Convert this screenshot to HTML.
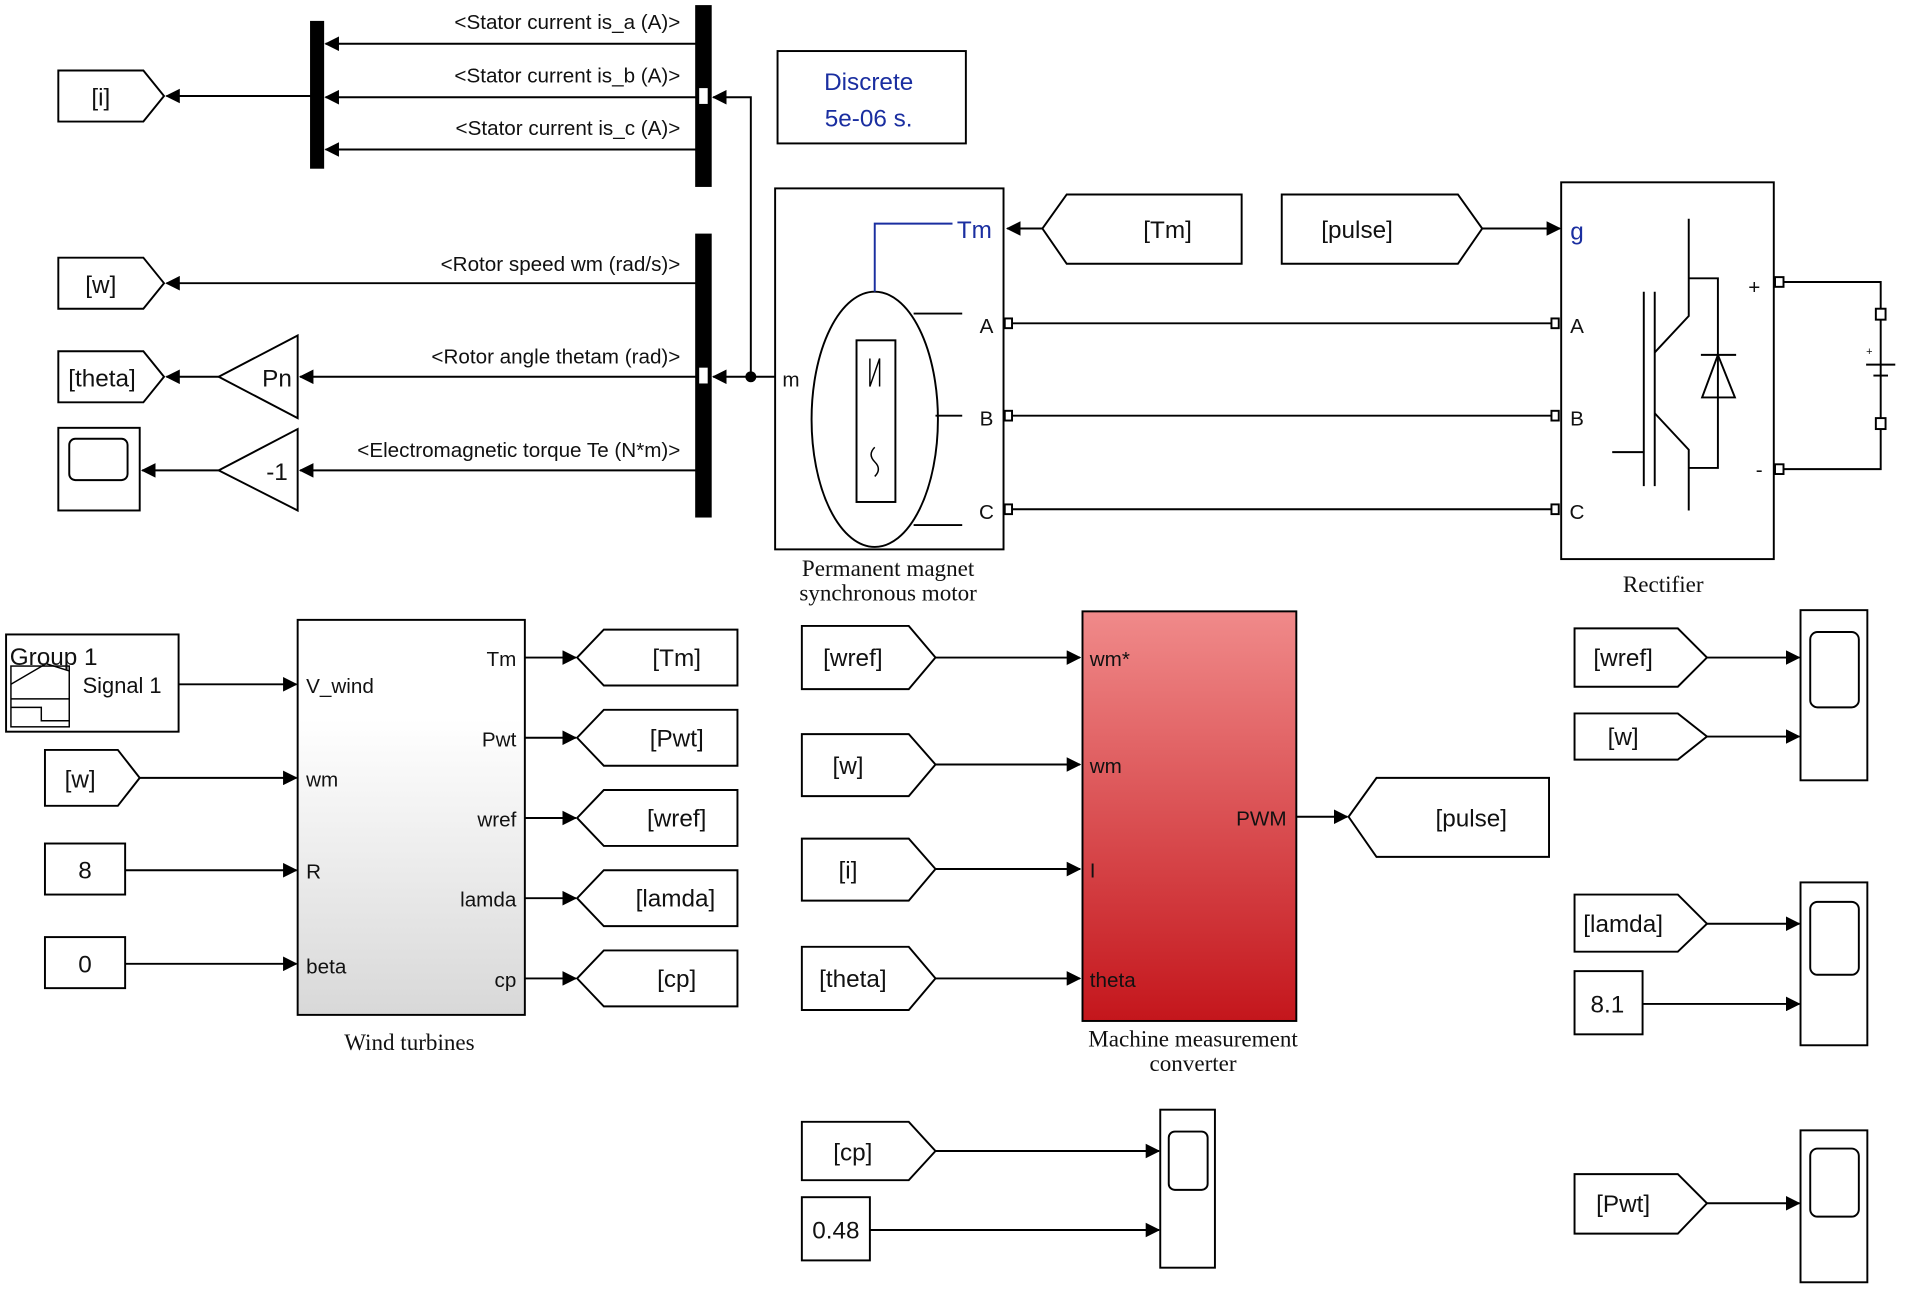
<!DOCTYPE html>
<html><head><meta charset="utf-8"><style>
html,body{margin:0;padding:0;background:#fff;}
svg{display:block;}
text{font-family:"Liberation Sans",sans-serif;fill:#111;}
.s{font-family:"Liberation Serif",serif;font-size:19px;}
</style></head><body>
<svg width="1905" height="1292" viewBox="0 0 1568 1063" preserveAspectRatio="none" xmlns="http://www.w3.org/2000/svg">
<defs>
<marker id="a" markerWidth="12" markerHeight="12" refX="11" refY="6" orient="auto" markerUnits="userSpaceOnUse"><path d="M0,0 L12,6 L0,12 Z" fill="#000"/></marker>
<linearGradient id="gw" x1="0" y1="0" x2="0" y2="1"><stop offset="0.25" stop-color="#fff"/><stop offset="1" stop-color="#d8d8d8"/></linearGradient>
<linearGradient id="gr" x1="0" y1="0" x2="0" y2="1"><stop offset="0" stop-color="#f08a8a"/><stop offset="1" stop-color="#c4161c"/></linearGradient>
</defs>
<g stroke="#000" stroke-width="1.6" fill="none">
<!-- top buses -->
<rect x="256" y="18" width="10" height="120" fill="#000"/>
<rect x="573" y="5" width="12" height="148" fill="#000"/>
<rect x="573" y="193" width="12" height="232" fill="#000"/>
<line x1="573" y1="36" x2="268" y2="36" marker-end="url(#a)"/>
<line x1="573" y1="80" x2="268" y2="80" marker-end="url(#a)"/>
<line x1="573" y1="123" x2="268" y2="123" marker-end="url(#a)"/>
<line x1="256" y1="79" x2="137" y2="79" marker-end="url(#a)"/>
<line x1="573" y1="233" x2="137" y2="233" marker-end="url(#a)"/>
<line x1="573" y1="310" x2="247" y2="310" marker-end="url(#a)"/>
<line x1="180" y1="310" x2="137" y2="310" marker-end="url(#a)"/>
<line x1="573" y1="387" x2="247" y2="387" marker-end="url(#a)"/>
<line x1="180" y1="387" x2="117" y2="387" marker-end="url(#a)"/>
<polyline points="640,310 587,310" marker-end="url(#a)"/>
<polyline points="618,310 618,80 587,80" marker-end="url(#a)"/>
<rect x="575" y="72" width="8" height="14" fill="#fff" stroke-width="1"/>
<rect x="575" y="302" width="8" height="14" fill="#fff" stroke-width="1"/>
<polygon points="48,58 118,58 135,79 118,100 48,100" fill="#fff"/>
<polygon points="48,212 118,212 135,233 118,254 48,254" fill="#fff"/>
<polygon points="48,289 118,289 135,310 118,331 48,331" fill="#fff"/>
<polygon points="245,276 245,344 180,310" fill="#fff"/>
<polygon points="245,353 245,420 180,387" fill="#fff"/>
<rect x="48" y="352" width="67" height="68" fill="#fff"/>
<rect x="57" y="361" width="48" height="34" rx="5"/>
<rect x="640" y="42" width="155" height="76" fill="#fff"/>
<!-- PMSM -->
<rect x="638" y="155" width="188" height="297" fill="#fff"/>
<ellipse cx="720" cy="345" rx="52" ry="105"/>
<rect x="705" y="280" width="32" height="133"/>
<line x1="752" y1="258" x2="792" y2="258"/>
<line x1="770" y1="342" x2="792" y2="342"/>
<line x1="752" y1="432" x2="792" y2="432"/>
<polyline points="720,240 720,184 784,184" stroke="#1a2ea0"/>
<path d="M716,295 L716,318 L724,295 L724,318" stroke-width="1.2"/>
<path d="M720,368 q-6,6 0,12 q6,6 0,12" stroke-width="1.2"/>
<line x1="833" y1="266" x2="1280" y2="266"/>
<line x1="833" y1="342" x2="1280" y2="342"/>
<line x1="833" y1="419" x2="1280" y2="419"/>
<rect x="827" y="262" width="6" height="8" fill="#fff"/>
<rect x="827" y="338" width="6" height="8" fill="#fff"/>
<rect x="827" y="415" width="6" height="8" fill="#fff"/>
<rect x="1277" y="262" width="6" height="8" fill="#fff"/>
<rect x="1277" y="338" width="6" height="8" fill="#fff"/>
<rect x="1277" y="415" width="6" height="8" fill="#fff"/>
<polygon points="878,160 1022,160 1022,217 878,217 858,188" fill="#fff"/>
<line x1="858" y1="188" x2="829" y2="188" marker-end="url(#a)"/>
<polygon points="1055,160 1200,160 1220,188 1200,217 1055,217" fill="#fff"/>
<line x1="1220" y1="188" x2="1284" y2="188" marker-end="url(#a)"/>
<!-- rectifier -->
<rect x="1285" y="150" width="175" height="310" fill="#fff"/>
<line x1="1353" y1="240" x2="1353" y2="400"/>
<line x1="1362" y1="240" x2="1362" y2="400"/>
<line x1="1327" y1="372" x2="1353" y2="372"/>
<polyline points="1390,180 1390,260 1362,290"/>
<polyline points="1362,340 1390,370 1390,420"/>
<polyline points="1390,229 1414,229 1414,385 1390,385"/>
<polygon points="1414,292 1401,327 1428,327"/>
<line x1="1400" y1="292" x2="1429" y2="292"/>
<polyline points="1465,232 1548,232 1548,386 1465,386"/>
<rect x="1461" y="228" width="7" height="8" fill="#fff"/>
<rect x="1461" y="382" width="7" height="8" fill="#fff"/>
<rect x="1544" y="254" width="8" height="9" fill="#fff"/>
<rect x="1544" y="344" width="8" height="9" fill="#fff"/>
<line x1="1536" y1="300" x2="1560" y2="300"/>
<line x1="1542" y1="309" x2="1554" y2="309"/>
<!-- bottom left -->
<rect x="5" y="522" width="142" height="80" fill="#fff"/>
<rect x="9" y="548" width="48" height="50" stroke-width="1.2"/>
<polyline points="9,563 38,546 57,552" stroke-width="1.2"/>
<line x1="9" y1="575" x2="57" y2="575" stroke-width="1.2"/>
<polyline points="9,582 34,582 34,593 57,593" stroke-width="1.2"/>
<line x1="147" y1="563" x2="244" y2="563" marker-end="url(#a)"/>
<rect x="245" y="510" width="187" height="325" fill="url(#gw)"/>
<polygon points="37,617 97,617 115,640 97,663 37,663" fill="#fff"/>
<line x1="115" y1="640" x2="244" y2="640" marker-end="url(#a)"/>
<rect x="37" y="694" width="66" height="42" fill="#fff"/>
<line x1="103" y1="716" x2="244" y2="716" marker-end="url(#a)"/>
<rect x="37" y="771" width="66" height="42" fill="#fff"/>
<line x1="103" y1="793" x2="244" y2="793" marker-end="url(#a)"/>
<line x1="432" y1="541" x2="474" y2="541" marker-end="url(#a)"/>
<line x1="432" y1="607" x2="474" y2="607" marker-end="url(#a)"/>
<line x1="432" y1="673" x2="474" y2="673" marker-end="url(#a)"/>
<line x1="432" y1="739" x2="474" y2="739" marker-end="url(#a)"/>
<line x1="432" y1="805" x2="474" y2="805" marker-end="url(#a)"/>
<polygon points="497,518 607,518 607,564 497,564 475,541" fill="#fff"/>
<polygon points="497,584 607,584 607,630 497,630 475,607" fill="#fff"/>
<polygon points="497,650 607,650 607,696 497,696 475,673" fill="#fff"/>
<polygon points="497,716 607,716 607,762 497,762 475,739" fill="#fff"/>
<polygon points="497,782 607,782 607,828 497,828 475,805" fill="#fff"/>
<!-- middle -->
<polygon points="660,515 748,515 770,541 748,567 660,567" fill="#fff"/>
<polygon points="660,604 748,604 770,629 748,655 660,655" fill="#fff"/>
<polygon points="660,690 748,690 770,715 748,741 660,741" fill="#fff"/>
<polygon points="660,779 748,779 770,805 748,831 660,831" fill="#fff"/>
<line x1="770" y1="541" x2="889" y2="541" marker-end="url(#a)"/>
<line x1="770" y1="629" x2="889" y2="629" marker-end="url(#a)"/>
<line x1="770" y1="715" x2="889" y2="715" marker-end="url(#a)"/>
<line x1="770" y1="805" x2="889" y2="805" marker-end="url(#a)"/>
<rect x="891" y="503" width="176" height="337" fill="url(#gr)"/>
<line x1="1067" y1="672" x2="1109" y2="672" marker-end="url(#a)"/>
<polygon points="1133,640 1275,640 1275,705 1133,705 1110,672" fill="#fff"/>
<polygon points="660,923 748,923 770,947 748,971 660,971" fill="#fff"/>
<line x1="770" y1="947" x2="954" y2="947" marker-end="url(#a)"/>
<rect x="660" y="985" width="56" height="52" fill="#fff"/>
<line x1="716" y1="1012" x2="954" y2="1012" marker-end="url(#a)"/>
<rect x="955" y="913" width="45" height="130" fill="#fff"/>
<rect x="962" y="931" width="32" height="48" rx="5"/>
<!-- right -->
<rect x="1482" y="502" width="55" height="140" fill="#fff"/>
<rect x="1490" y="520" width="40" height="62" rx="6"/>
<polygon points="1296,517 1381,517 1405,541 1381,565 1296,565" fill="#fff"/>
<line x1="1405" y1="541" x2="1481" y2="541" marker-end="url(#a)"/>
<polygon points="1296,587 1381,587 1405,606 1381,625 1296,625" fill="#fff"/>
<line x1="1405" y1="606" x2="1481" y2="606" marker-end="url(#a)"/>
<rect x="1482" y="726" width="55" height="134" fill="#fff"/>
<rect x="1490" y="742" width="40" height="60" rx="6"/>
<polygon points="1296,736 1381,736 1405,760 1381,783 1296,783" fill="#fff"/>
<line x1="1405" y1="760" x2="1481" y2="760" marker-end="url(#a)"/>
<rect x="1296" y="799" width="56" height="52" fill="#fff"/>
<line x1="1352" y1="826" x2="1481" y2="826" marker-end="url(#a)"/>
<rect x="1482" y="930" width="55" height="125" fill="#fff"/>
<rect x="1490" y="945" width="40" height="56" rx="6"/>
<polygon points="1296,966 1381,966 1405,990 1381,1015 1296,1015" fill="#fff"/>
<line x1="1405" y1="990" x2="1481" y2="990" marker-end="url(#a)"/>
</g>
<circle cx="618" cy="310" r="4.5" fill="#000"/>
<g font-size="17">
<text x="560" y="24" text-anchor="end">&lt;Stator current is_a (A)&gt;</text>
<text x="560" y="68" text-anchor="end">&lt;Stator current is_b (A)&gt;</text>
<text x="560" y="111" text-anchor="end">&lt;Stator current is_c (A)&gt;</text>
<text x="560" y="223" text-anchor="end">&lt;Rotor speed wm (rad/s)&gt;</text>
<text x="560" y="299" text-anchor="end">&lt;Rotor angle thetam (rad)&gt;</text>
<text x="560" y="376" text-anchor="end">&lt;Electromagnetic torque Te (N*m)&gt;</text>
</g>
<g font-size="20">
<text x="83" y="87" text-anchor="middle">[i]</text>
<text x="83" y="241" text-anchor="middle">[w]</text>
<text x="84" y="318" text-anchor="middle">[theta]</text>
<text x="228" y="318" text-anchor="middle">Pn</text>
<text x="228" y="395" text-anchor="middle">-1</text>
<text x="715" y="74" text-anchor="middle" style="fill:#1a2ea0">Discrete</text>
<text x="715" y="104" text-anchor="middle" style="fill:#1a2ea0">5e-06 s.</text>
<text x="802" y="196" text-anchor="middle" style="fill:#1a2ea0">Tm</text>
<text x="961" y="196" text-anchor="middle">[Tm]</text>
<text x="1117" y="196" text-anchor="middle">[pulse]</text>
<text x="1298" y="197" text-anchor="middle" style="fill:#1a2ea0">g</text>
</g>
<g font-size="17">
<text x="644" y="318">m</text>
<text x="812" y="274" text-anchor="middle">A</text>
<text x="812" y="350" text-anchor="middle">B</text>
<text x="812" y="427" text-anchor="middle">C</text>
<text x="1298" y="274" text-anchor="middle">A</text>
<text x="1298" y="350" text-anchor="middle">B</text>
<text x="1298" y="427" text-anchor="middle">C</text>
<text x="1444" y="242" text-anchor="middle">+</text>
<text x="1448" y="392" text-anchor="middle">-</text>
<text x="1536" y="292" font-size="9">+</text>
</g>
<text class="s" x="731" y="474" text-anchor="middle">Permanent magnet</text>
<text class="s" x="731" y="494" text-anchor="middle">synchronous motor</text>
<text class="s" x="1369" y="487" text-anchor="middle">Rectifier</text>
<text class="s" x="337" y="864" text-anchor="middle">Wind turbines</text>
<text class="s" x="982" y="861" text-anchor="middle">Machine measurement</text>
<text class="s" x="982" y="881" text-anchor="middle">converter</text>
<g font-size="20">
<text x="8" y="547">Group 1</text>
<text x="68" y="570" font-size="18">Signal 1</text>
<text x="66" y="648" text-anchor="middle">[w]</text>
<text x="70" y="723" text-anchor="middle">8</text>
<text x="70" y="800" text-anchor="middle">0</text>
<text x="557" y="548" text-anchor="middle">[Tm]</text>
<text x="557" y="614" text-anchor="middle">[Pwt]</text>
<text x="557" y="680" text-anchor="middle">[wref]</text>
<text x="556" y="746" text-anchor="middle">[lamda]</text>
<text x="557" y="812" text-anchor="middle">[cp]</text>
<text x="702" y="548" text-anchor="middle">[wref]</text>
<text x="698" y="637" text-anchor="middle">[w]</text>
<text x="698" y="723" text-anchor="middle">[i]</text>
<text x="702" y="812" text-anchor="middle">[theta]</text>
<text x="1211" y="680" text-anchor="middle">[pulse]</text>
<text x="702" y="955" text-anchor="middle">[cp]</text>
<text x="688" y="1019" text-anchor="middle">0.48</text>
<text x="1336" y="548" text-anchor="middle">[wref]</text>
<text x="1336" y="613" text-anchor="middle">[w]</text>
<text x="1336" y="767" text-anchor="middle">[lamda]</text>
<text x="1323" y="833" text-anchor="middle">8.1</text>
<text x="1336" y="997" text-anchor="middle">[Pwt]</text>
</g>
<g font-size="17">
<text x="252" y="570">V_wind</text>
<text x="252" y="647">wm</text>
<text x="252" y="723">R</text>
<text x="252" y="801">beta</text>
<text x="425" y="548" text-anchor="end">Tm</text>
<text x="425" y="614" text-anchor="end">Pwt</text>
<text x="425" y="680" text-anchor="end">wref</text>
<text x="425" y="746" text-anchor="end">lamda</text>
<text x="425" y="812" text-anchor="end">cp</text>
<text x="897" y="548">wm*</text>
<text x="897" y="636">wm</text>
<text x="897" y="722">I</text>
<text x="897" y="812">theta</text>
<text x="1059" y="679" text-anchor="end">PWM</text>
</g>
</svg>
</body></html>
